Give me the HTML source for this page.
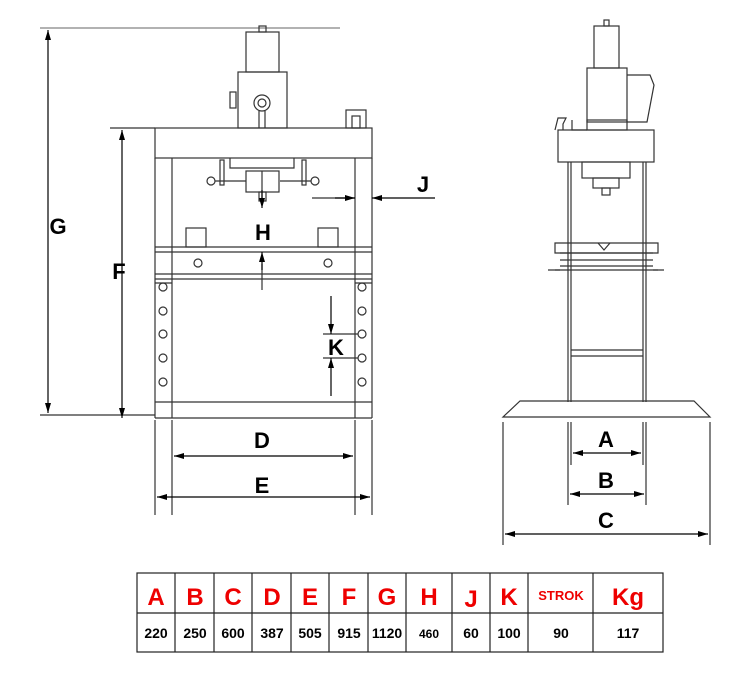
<!DOCTYPE html>
<html><head><meta charset="utf-8"><style>
body{margin:0;background:#fff}
svg{display:block}
.l{stroke:#333;stroke-width:1.2;fill:none}
.t{font-family:"Liberation Sans",Arial,sans-serif;font-weight:bold}
</style></head><body>
<svg width="750" height="697" viewBox="0 0 750 697" xmlns="http://www.w3.org/2000/svg">
<defs>
<marker id="a" viewBox="0 0 10 6" refX="10" refY="3" markerWidth="16" markerHeight="6" markerUnits="userSpaceOnUse" orient="auto-start-reverse"><path d="M0,0L10,3L0,6z" fill="#000"/></marker>
</defs>
<g class="l">
<!-- LEFT VIEW -->
<rect x="246" y="32" width="33" height="40"/>
<rect x="259" y="26" width="7" height="6"/>
<rect x="238" y="72" width="49" height="56"/>
<circle cx="262" cy="103" r="8"/><circle cx="262" cy="103" r="4"/>
<path d="M259,111V128M265,111V128"/>
<rect x="230" y="92" width="6" height="16"/>
<rect x="346" y="110" width="20" height="18"/><rect x="352" y="116" width="8" height="12"/>
<rect x="155" y="128" width="217" height="30"/>
<path d="M155,158V418M172,158V418M355,158V418M372,158V418"/>
<path d="M230,158V168H294V158"/>
<rect x="220" y="160" width="4" height="25"/><rect x="302" y="160" width="4" height="25"/>
<path d="M215,181H246M280,181H311"/>
<circle cx="211" cy="181" r="4"/><circle cx="315" cy="181" r="4"/>
<rect x="246" y="171" width="33" height="21"/>
<path d="M262,171V205"/>
<rect x="259" y="192" width="7" height="9"/>
<rect x="186" y="228" width="20" height="19"/><rect x="318" y="228" width="20" height="19"/>
<path d="M155,247H372M155,252H372M155,274H372M155,279H372"/>
<circle cx="198" cy="263" r="4"/><circle cx="328" cy="263" r="4"/>
<path d="M262,264V290"/>
<path d="M155,283H172M355,283H372"/>
<circle cx="163" cy="287" r="4"/><circle cx="163" cy="311" r="4"/><circle cx="163" cy="334" r="4"/><circle cx="163" cy="358" r="4"/><circle cx="163" cy="382" r="4"/>
<circle cx="362" cy="287" r="4"/><circle cx="362" cy="311" r="4"/><circle cx="362" cy="334" r="4"/><circle cx="362" cy="358" r="4"/><circle cx="362" cy="382" r="4"/>
<path d="M155,402H372M155,418H372"/>
<!-- dims left -->
<path d="M40,28H340" stroke-width="0.8"/>
<path d="M40,415H155M110,128H155M155,420V515M172,420V515M355,420V515M372,420V515"/>
<path d="M323,334H358M323,358H358"/>
<path d="M312,198H355"/>
</g>
<g stroke="#000" stroke-width="1.2" fill="none">
<path d="M48,30V413" marker-start="url(#a)" marker-end="url(#a)"/>
<path d="M122,130V418" marker-start="url(#a)" marker-end="url(#a)"/>
<path d="M174,456H353" marker-start="url(#a)" marker-end="url(#a)"/>
<path d="M157,497H370" marker-start="url(#a)" marker-end="url(#a)"/>
<path d="M335,198H355" marker-end="url(#a)"/>
<path d="M435,198H372" marker-end="url(#a)"/>
<path d="M262,190V208" marker-end="url(#a)"/>
<path d="M262,270V252" marker-end="url(#a)"/>
<path d="M331,296V334" marker-end="url(#a)"/>
<path d="M331,396V358" marker-end="url(#a)"/>
</g>
<g class="l">
<!-- RIGHT VIEW -->
<rect x="594" y="26" width="25" height="42"/>
<rect x="604" y="20" width="5" height="6"/>
<rect x="587" y="68" width="40" height="54"/>
<path d="M627,75H650L654,85L647,122H627"/>
<rect x="587" y="120" width="40" height="10"/>
<path d="M555,130L558,118H566L563,124V130M572,120V130H587"/>
<rect x="558" y="130" width="96" height="32"/>
<rect x="582" y="162" width="48" height="16"/><rect x="593" y="178" width="26" height="10"/><rect x="602" y="188" width="8" height="7"/>
<path d="M568,162V402M571,162V402M643,162V402M646,162V402"/>
<path d="M555,243H658V253H555z"/>
<path d="M598,243L604,250L610,243"/>
<path d="M560,253H653M560,260H653M560,266H653M555,270H658"/>
<path d="M548,270H560M653,270H664"/>
<path d="M571,350H643M571,356H643"/>
<path d="M520,401H694L710,417H503z"/>
<path d="M503,422V545M710,422V545M568,422V505M571,422V465M643,422V465M646,422V505"/>
</g>
<g stroke="#000" stroke-width="1.2" fill="none">
<path d="M573,453H641" marker-start="url(#a)" marker-end="url(#a)"/>
<path d="M570,494H644" marker-start="url(#a)" marker-end="url(#a)"/>
<path d="M505,534H708" marker-start="url(#a)" marker-end="url(#a)"/>
</g>
<g class="t" font-size="22" fill="#000" text-anchor="middle">
<text x="58" y="234">G</text>
<text x="119" y="279">F</text>
<text x="262" y="448">D</text>
<text x="262" y="493">E</text>
<text x="263" y="240">H</text>
<text x="336" y="355">K</text>
<text x="423" y="192">J</text>
<text x="606" y="447">A</text>
<text x="606" y="488">B</text>
<text x="606" y="528">C</text>
</g>
<!-- TABLE -->
<g stroke="#222" stroke-width="1.2" fill="none">
<rect x="137" y="573" width="526" height="79"/>
<path d="M137,613H663"/>
<path d="M175,573V652M214,573V652M252,573V652M291,573V652M329,573V652M368,573V652M406,573V652M452,573V652M490,573V652M528,573V652M593,573V652"/>
</g>
<g class="t" fill="#e00" font-size="24" text-anchor="middle">
<text x="156" y="605">A</text><text x="195" y="605">B</text><text x="233" y="605">C</text><text x="272" y="605">D</text><text x="310" y="605">E</text><text x="349" y="605">F</text><text x="387" y="605">G</text><text x="429" y="605">H</text><text x="471" y="607">J</text><text x="509" y="605">K</text>
<text x="561" y="600" font-size="13">STROK</text><text x="628" y="605">Kg</text>
</g>
<g class="t" fill="#000" font-size="14" text-anchor="middle">
<text x="156" y="638">220</text><text x="195" y="638">250</text><text x="233" y="638">600</text><text x="272" y="638">387</text><text x="310" y="638">505</text><text x="349" y="638">915</text><text x="387" y="638">1120</text><text x="429" y="638" font-size="12">460</text><text x="471" y="638">60</text><text x="509" y="638">100</text><text x="561" y="638">90</text><text x="628" y="638">117</text>
</g>
</svg>
</body></html>
